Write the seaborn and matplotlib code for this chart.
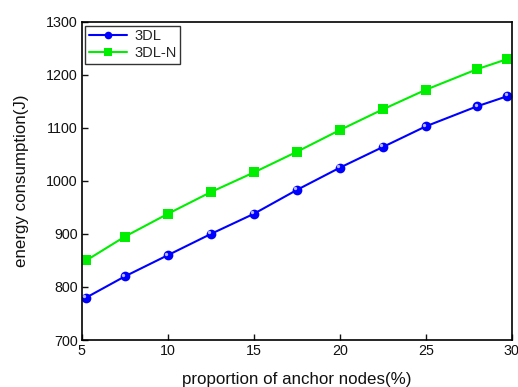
import numpy as np
import pandas as pd
import matplotlib
matplotlib.use("Agg")
import matplotlib.pyplot as plt
import matplotlib.transforms as mtransforms
from matplotlib.lines import Line2D
import seaborn as sns

# proportion of anchor nodes (%)
x_vals = [5.25, 7.5, 10, 12.5, 15, 17.5, 20, 22.5, 25, 28, 29.75]
# energy consumption (J)
e_3dl = [780, 820, 860, 900, 938, 983, 1025, 1064, 1103, 1141, 1160]
e_3dln = [850, 895, 938, 979, 1016, 1055, 1096, 1135, 1172, 1211, 1230]

series_names = ["3DL", "3DL-N"]
x_ticks = [5, 10, 15, 20, 25, 30]
y_ticks = [700, 800, 900, 1000, 1100, 1200, 1300]

df = pd.DataFrame({
    "x": x_vals * 2,
    "energy": e_3dl + e_3dln,
    "method": [series_names[0]] * len(x_vals) + [series_names[1]] * len(x_vals),
})

sns.set_theme(style="white")
plt.rcParams["font.family"] = ["Liberation Sans", "DejaVu Sans"]

fig = plt.figure(figsize=(5.18, 3.87), dpi=100)
ax = fig.add_axes([0.158, 0.1214, 0.830, 0.822])

palette = {"3DL": "#0000ff", "3DL-N": "#00ee00"}
markers = {"3DL": "o", "3DL-N": "s"}

sns.lineplot(data=df, x="x", y="energy", hue="method", style="method",
             palette=palette, markers=markers, dashes=False,
             markersize=7, linewidth=1.5, markeredgewidth=0,
             ax=ax, legend=False)

# small highlight on the blue spheres
offset = mtransforms.ScaledTranslation(-1.2 / 72, 1.2 / 72, fig.dpi_scale_trans)
ax.plot(x_vals, e_3dl, linestyle="none", marker="o", markersize=2.4,
        markerfacecolor="#b8b8ff", markeredgewidth=0,
        transform=ax.transData + offset, zorder=5)

ax.set_xlim(5, 30)
ax.set_ylim(700, 1300)
ax.set_xticks(x_ticks)
ax.set_yticks(y_ticks)
ax.tick_params(axis="both", direction="in", length=4.5, width=1,
               labelsize=10.3, colors="#111111", pad=3,
               bottom=True, left=True, top=False, right=False)
for s in ax.spines.values():
    s.set_color("black")
    s.set_linewidth(1.2)

ax.set_xlabel("proportion of anchor nodes(%)", fontsize=12.2, labelpad=10, color="#111111")
ax.set_ylabel("energy consumption(J)", fontsize=12.2, labelpad=12, color="#111111")

handles = [
    Line2D([], [], color="#0000ff", marker="o", markersize=5.5, linewidth=1.5,
           markeredgewidth=0),
    Line2D([], [], color="#00ee00", marker="s", markersize=5.5, linewidth=1.5,
           markeredgewidth=0),
]
leg = ax.legend(handles, series_names, loc="upper left", fontsize=10.5,
                frameon=True, fancybox=False, edgecolor="black",
                borderaxespad=0.25, handlelength=2.6, handletextpad=0.5,
                borderpad=0.25, labelspacing=0.2)
leg.get_frame().set_linewidth(1.0)

fig.savefig("out.png", dpi=100)
